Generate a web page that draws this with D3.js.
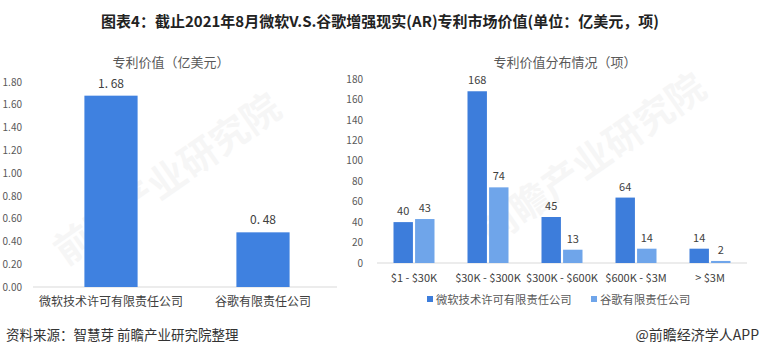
<!DOCTYPE html>
<html>
<head>
<meta charset="utf-8">
<script src="https://cdn.jsdelivr.net/npm/d3@7"></script>
<style>
  body { margin: 0; background: #fff; }
  svg text { font-family: "Noto Sans CJK SC", "Noto Sans", sans-serif; }
</style>
</head>
<body>
<div id="chart"></div>
<script>
// left chart data
const leftCats = ["微软技术许可有限责任公司", "谷歌有限责任公司"];
const leftValues = [1.68, 0.48];
const leftTicks = [0, 0.2, 0.4, 0.6, 0.8, 1.0, 1.2, 1.4, 1.6, 1.8];

// right chart data
const rightCats = ["$1 - $30K", "$30K - $300K", "$300K - $600K", "$600K - $3M", "> $3M"];
const seriesNames = ["微软技术许可有限责任公司", "谷歌有限责任公司"];
const msValues = [40, 168, 45, 64, 14];
const googleValues = [43, 74, 13, 14, 2];
const rightTicks = [0, 20, 40, 60, 80, 100, 120, 140, 160, 180];

const W = 760, H = 355;
const textColor = "#595959";
const colors = ["#3d7ddb", "#6fa5ea"];

const svg = d3.select("#chart").append("svg")
    .attr("width", W)
    .attr("height", H);

// faint watermarks
[[175, 190], [600, 170]].forEach(([cx, cy]) => {
    svg.append("text")
        .attr("transform", `translate(${cx},${cy}) rotate(-35)`)
        .attr("text-anchor", "middle")
        .style("font-size", "38px")
        .style("font-weight", "bold")
        .style("fill", "#000")
        .style("opacity", 0.03)
        .text("前瞻产业研究院");
});

svg.append("text")
    .attr("x", W / 2)
    .attr("y", 27)
    .attr("text-anchor", "middle")
    .style("font-size", "15px")
    .style("font-weight", "bold")
    .style("fill", "#222")
    .text("图表4：截止2021年8月微软V.S.谷歌增强现实(AR)专利市场价值(单位：亿美元，项)");

// ---- left chart ----
const lx = d3.scaleBand().domain(leftCats).range([33, 337]);
const ly = d3.scaleLinear().domain([0, 1.8]).range([287, 82]);

svg.append("text")
    .attr("x", 171).attr("y", 67)
    .attr("text-anchor", "middle")
    .style("font-size", "13px")
    .style("fill", textColor)
    .text("专利价值（亿美元）");

const lAxisY = svg.append("g")
    .attr("transform", "translate(24,0)")
    .call(d3.axisLeft(ly).tickValues(leftTicks).tickSize(0).tickPadding(2)
        .tickFormat(d => d3.format(".2f")(d)));
lAxisY.select(".domain").remove();
lAxisY.selectAll("text").style("font-size", "10px").style("fill", textColor)
    .attr("text-anchor", "end");

svg.append("line")
    .attr("x1", 33).attr("x2", 337)
    .attr("y1", ly(0)).attr("y2", ly(0))
    .attr("stroke", "#d9d9d9");

const lbw = lx.bandwidth() * 0.35;
svg.selectAll(".lbar")
    .data(leftValues)
    .enter()
    .append("rect")
    .attr("class", "lbar")
    .attr("x", (d, i) => lx(leftCats[i]) + (lx.bandwidth() - lbw) / 2 + 2)
    .attr("y", d => ly(d))
    .attr("width", lbw)
    .attr("height", d => ly(0) - ly(d))
    .attr("fill", "#3f81e0");

svg.selectAll(".llabel")
    .data(leftValues)
    .enter()
    .append("text")
    .attr("x", (d, i) => lx(leftCats[i]) + lx.bandwidth() / 2 + 2)
    .attr("y", d => ly(d) - 8)
    .attr("text-anchor", "middle")
    .style("font-size", "12px")
    .style("fill", "#404040")
    .text(d => d3.format(".2f")(d).replace(".", ". "));

svg.selectAll(".lcat")
    .data(leftCats)
    .enter()
    .append("text")
    .attr("x", d => lx(d) + lx.bandwidth() / 2 + 2)
    .attr("y", 306)
    .attr("text-anchor", "middle")
    .style("font-size", "12px")
    .style("fill", "#404040")
    .text(d => d);

// ---- right chart ----
const rx = d3.scaleBand().domain(rightCats).range([377, 747]);
const ry = d3.scaleLinear().domain([0, 180]).range([263, 79]);
const inner = d3.scaleBand().domain([0, 1]).range([0, 41]).paddingInner(0.1);

svg.append("text")
    .attr("x", 565).attr("y", 67)
    .attr("text-anchor", "middle")
    .style("font-size", "13px")
    .style("fill", textColor)
    .text("专利价值分布情况（项）");

const rAxisY = svg.append("g")
    .attr("transform", "translate(363,0)")
    .call(d3.axisLeft(ry).tickValues(rightTicks).tickSize(0).tickPadding(0));
rAxisY.select(".domain").remove();
rAxisY.selectAll("text").style("font-size", "10px").style("fill", textColor);

svg.append("line")
    .attr("x1", 377).attr("x2", 747)
    .attr("y1", ry(0)).attr("y2", ry(0))
    .attr("stroke", "#d9d9d9");

const groups = rightCats.map((c, i) => ({ cat: c, vals: [msValues[i], googleValues[i]] }));
const offset = (rx.bandwidth() - 41) / 2;

const g = svg.selectAll(".grp")
    .data(groups)
    .enter()
    .append("g")
    .attr("transform", d => `translate(${rx(d.cat) + offset},0)`);

g.selectAll("rect")
    .data(d => d.vals)
    .enter()
    .append("rect")
    .attr("x", (d, i) => inner(i))
    .attr("y", d => ry(d))
    .attr("width", inner.bandwidth())
    .attr("height", d => ry(0) - ry(d))
    .attr("fill", (d, i) => colors[i]);

g.selectAll("text")
    .data(d => d.vals)
    .enter()
    .append("text")
    .attr("x", (d, i) => inner(i) + inner.bandwidth() / 2)
    .attr("y", d => ry(d) - 7)
    .attr("text-anchor", "middle")
    .style("font-size", "11px")
    .style("fill", "#404040")
    .text(d => d);

svg.selectAll(".rcat")
    .data(rightCats)
    .enter()
    .append("text")
    .attr("x", d => rx(d) + rx.bandwidth() / 2)
    .attr("y", 282)
    .attr("text-anchor", "middle")
    .style("font-size", "11px")
    .style("fill", "#404040")
    .text(d => d);

// legend
const legendX = [427, 591];
seriesNames.forEach((name, i) => {
    svg.append("rect")
        .attr("x", legendX[i]).attr("y", 296)
        .attr("width", 6).attr("height", 6)
        .attr("fill", colors[i]);
    svg.append("text")
        .attr("x", legendX[i] + 9).attr("y", 304)
        .style("font-size", "11.3px")
        .style("fill", textColor)
        .text(name);
});

// footer
svg.append("text")
    .attr("x", 6).attr("y", 340)
    .style("font-size", "13.5px")
    .style("fill", "#333")
    .text("资料来源：智慧芽 前瞻产业研究院整理");

svg.append("text")
    .attr("x", 759).attr("y", 340)
    .attr("text-anchor", "end")
    .style("font-size", "14px")
    .style("fill", "#333")
    .text("@前瞻经济学人APP");
</script>
</body>
</html>
